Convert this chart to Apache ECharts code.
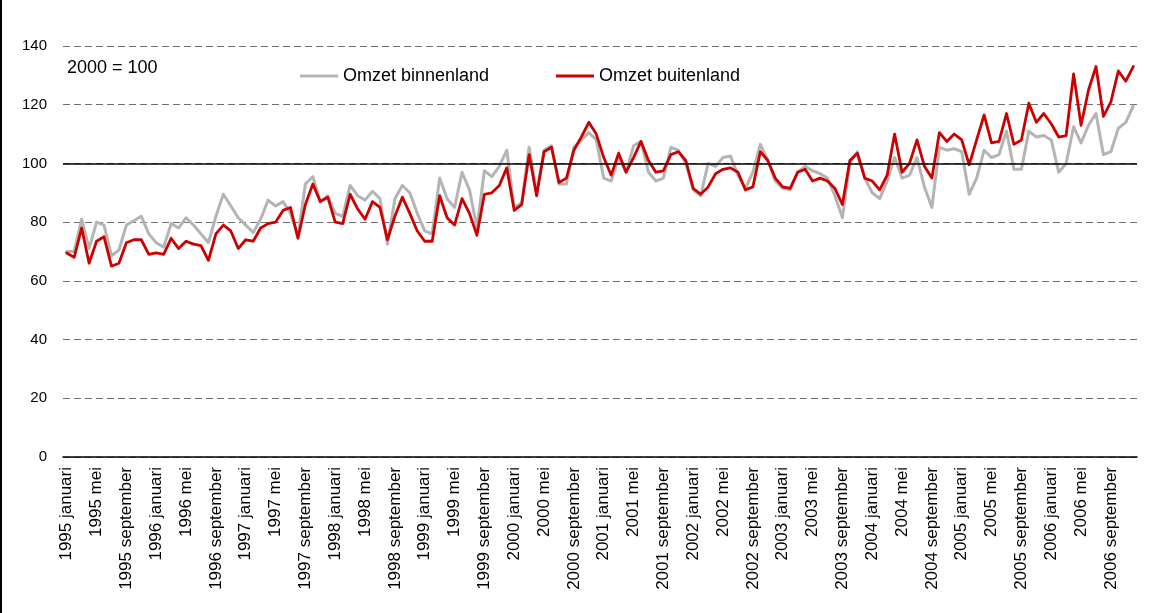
<!DOCTYPE html>
<html>
<head>
    <meta charset="UTF-8">
    <title>Omzet</title>
    <style>
        html, body {
            margin: 0;
            height: 100%;
            background-color: #FFF;
        }
    </style>
</head>
<body>
<div id="main" style="width:1149px;height:613px"></div>

<script src="https://cdn.jsdelivr.net/npm/echarts@6/dist/echarts.min.js"></script>
<script type="text/javascript">
    // jaren en maanden voor de categorie-as
    var years = [1995, 1996, 1997, 1998, 1999, 2000, 2001, 2002, 2003, 2004, 2005, 2006];
    var months = ['januari', 'februari', 'maart', 'april', 'mei', 'juni', 'juli', 'augustus',
        'september', 'oktober', 'november', 'december'];
    var yTicks = [0, 20, 40, 60, 80, 100, 120, 140];

    // 2000 = 100
    var binnenland = [
        70, 70, 81, 71, 80, 79, 68.5, 70.5, 79, 80.5, 82, 76,
        73, 71.5, 79.5, 78, 81.5, 79, 76, 73, 82, 89.5, 85.5, 81.5,
        79, 76.5, 81, 87.5, 85.5, 87, 83, 75, 93, 95.5, 87, 89,
        83, 82, 92.5, 89, 87.5, 90.5, 88, 72.5, 88, 92.5, 90, 83,
        77, 76, 95, 88, 85, 97, 91, 78, 97.5, 95.5, 99, 104.5,
        85, 86.5, 105.5, 90, 104.5, 106, 93, 93, 105.5, 108, 110.5, 108,
        95, 94, 102, 97, 106, 107.5, 97, 94, 95, 105.5, 104.5, 100,
        91, 89, 100, 99, 102, 102.5, 96, 91.5, 97, 106.5, 101, 94,
        91.5, 91, 97, 99, 97.5, 96.5, 95, 89, 81.5, 100, 104, 95,
        90, 88, 94, 102, 95, 96, 102, 92, 85, 105.5, 104.5, 105,
        104, 89.5, 95, 104.5, 102, 103, 111, 98, 98, 111, 109, 109.5,
        108, 97, 100, 112.5, 107, 113, 117, 103, 104, 112, 114, 119.5
    ];
    var buitenland = [
        69.5, 68, 78, 66, 73.5, 75, 65, 66, 73, 74, 74, 69,
        69.5, 69, 74.5, 71, 73.5, 72.5, 72, 67, 76, 79, 77, 71,
        74, 73.5, 78, 79.5, 80, 84, 85, 74.5, 86, 93, 87, 88.5,
        80, 79.5, 89.5, 84.5, 81, 87, 85, 74, 82, 88.5, 83, 77,
        73.5, 73.5, 89, 81.5, 79, 88, 83, 75.5, 89.5, 90, 92.5, 98.5,
        84, 86, 103, 89, 104, 105.5, 93.5, 95, 104.5, 109, 114, 110,
        102, 96, 103.5, 97, 102, 107.5, 101, 97, 97.5, 103, 104, 101,
        91.5, 89.5, 92, 96.5, 98, 98.5, 97, 91, 92, 104, 101, 95,
        92, 91.5, 97, 98, 94, 95, 94, 91.5, 86, 101, 103.5, 95,
        94, 91, 96, 110, 97, 100, 108, 99, 95, 110.5, 107.5, 110,
        108, 99.5, 108, 116.5, 107, 107.5, 117, 106.5, 108, 120.5, 114, 117,
        113.5, 109, 109.5, 130.5, 113, 125, 133, 116, 121, 131.5, 128, 133
    ];

    var categories = [];
    for (var y = 0; y < years.length; y++) {
        for (var m = 0; m < months.length; m++) {
            categories.push(years[y] + ' ' + months[m]);
        }
    }

    var mCharts = echarts.init(document.getElementById('main'));
    var font = "'Liberation Sans', Arial, sans-serif";

    var mOptions = {
        animation: false,
        textStyle: {fontFamily: font},
        grid: {
            left: 63,
            right: 12,
            top: 46,
            bottom: 156,
            outerBoundsMode: 'none',
            containLabel: false
        },
        legend: [{
            data: ['Omzet binnenland'],
            left: 300,
            top: 67,
            padding: 0,
            icon: 'rect',
            itemWidth: 38,
            itemHeight: 3,
            selectedMode: false,
            textStyle: {fontSize: 18, color: '#000', fontFamily: font}
        }, {
            data: ['Omzet buitenland'],
            left: 556,
            top: 67,
            padding: 0,
            icon: 'rect',
            itemWidth: 38,
            itemHeight: 3,
            selectedMode: false,
            textStyle: {fontSize: 18, color: '#000', fontFamily: font}
        }],
        graphic: [{
            type: 'text',
            left: 67,
            top: 59,
            style: {text: '2000 = 100', fontSize: 18, fill: '#000', fontFamily: font}
        }, {
            type: 'line',
            shape: {x1: 1, y1: 0, x2: 1, y2: 613},
            style: {stroke: '#000', lineWidth: 2}
        }],
        xAxis: {
            type: 'category',
            boundaryGap: true,
            data: categories,
            axisLine: {show: true, lineStyle: {color: '#000', width: 1.5}},
            axisTick: {show: false},
            axisLabel: {
                interval: 3,
                rotate: 90,
                margin: 10,
                fontSize: 17,
                color: '#000',
                fontFamily: font
            },
            splitLine: {show: false}
        },
        yAxis: {
            type: 'value',
            min: yTicks[0],
            max: yTicks[yTicks.length - 1],
            interval: 20,
            axisLine: {show: false},
            axisTick: {show: false},
            axisLabel: {
                margin: 16,
                fontSize: 15,
                color: '#000',
                fontFamily: font
            },
            splitLine: {
                show: true,
                lineStyle: {color: '#707070', type: [7, 4], width: 1}
            }
        },
        series: [{
            // lijn op 100
            type: 'line',
            data: [],
            z: 1,
            silent: true,
            markLine: {
                silent: true,
                symbol: 'none',
                label: {show: false},
                lineStyle: {color: '#000', type: 'solid', width: 1.5},
                data: [{yAxis: 100}]
            }
        }, {
            name: 'Omzet binnenland',
            type: 'line',
            z: 3,
            symbol: 'none',
            data: binnenland,
            itemStyle: {color: '#B4B4B4'},
            lineStyle: {color: '#B4B4B4', width: 3, join: 'round', cap: 'round'}
        }, {
            name: 'Omzet buitenland',
            type: 'line',
            z: 4,
            symbol: 'none',
            data: buitenland,
            itemStyle: {color: '#CC0000'},
            lineStyle: {color: '#CC0000', width: 2.8, join: 'round', cap: 'round'}
        }]
    };

    mCharts.setOption(mOptions);
</script>
</body>
</html>
